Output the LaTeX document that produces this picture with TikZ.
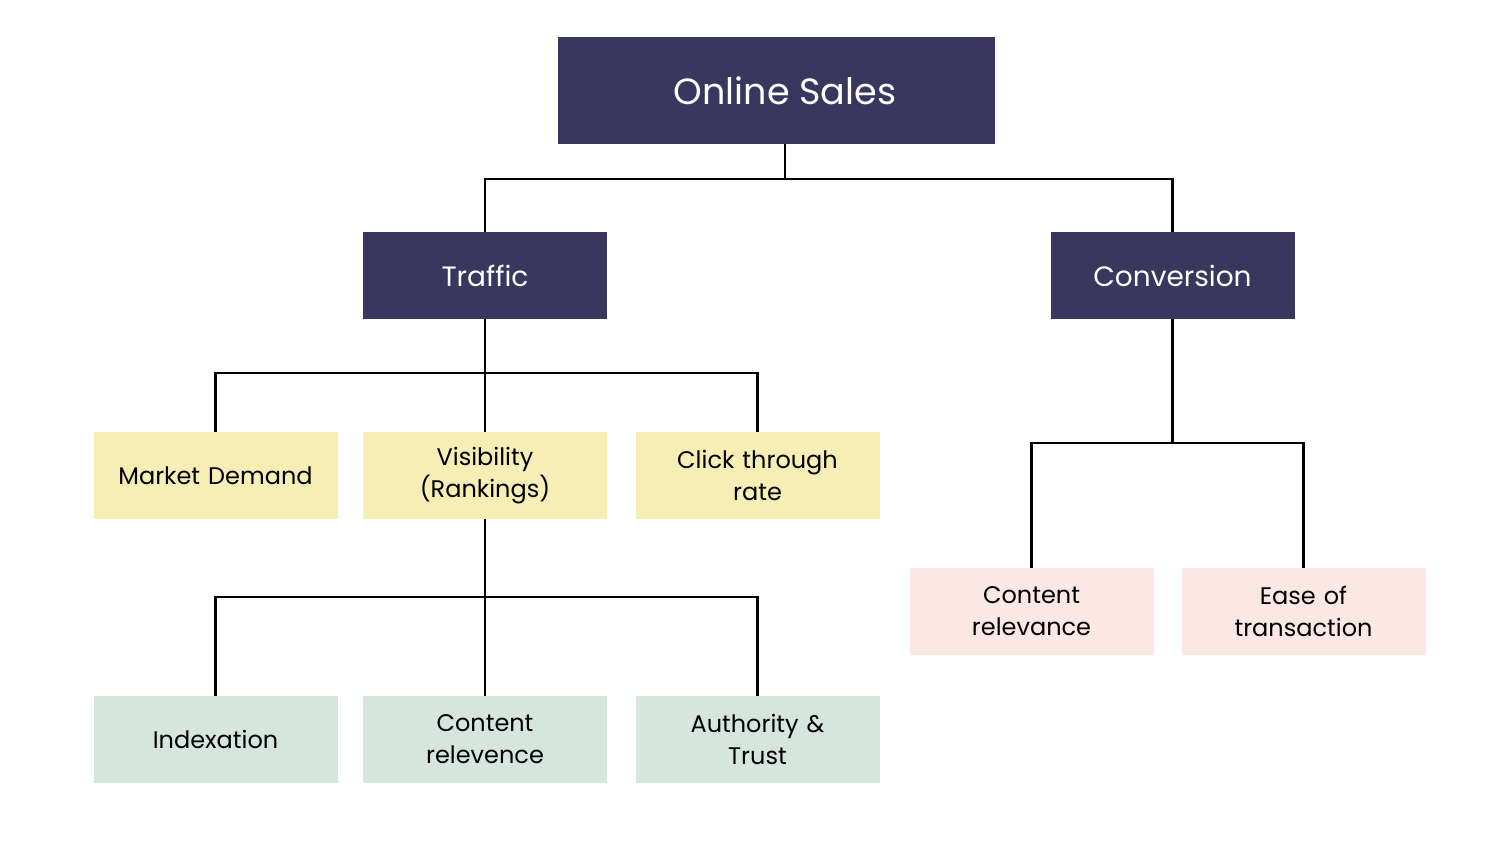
\documentclass[tikz,border=0pt]{standalone}
\usepackage{fontspec}
\setmainfont{Poppins}
\definecolor{navy}{HTML}{3A375F}
\definecolor{yel}{HTML}{F7EEB5}
\definecolor{pink}{HTML}{FBE8E5}
\definecolor{mint}{HTML}{D6E6DF}
\tikzset{
  box/.style={minimum width=244pt, minimum height=87pt, inner sep=0pt, align=center, text width=230pt},
  topbox/.style={fill=navy, text=white, minimum width=437pt, minimum height=107pt, inner sep=0pt, font=\fontsize{36.5}{44}\selectfont},
  midbox/.style={box, fill=navy, text=white, font=\fontsize{28}{34}\selectfont},
  leafbox/.style={box, text=black, font=\fontsize{24}{32}\selectfont},
  conn/.style={draw=black, line width=2.8pt}
}
\begin{document}
\begin{tikzpicture}[x=1pt,y=-1pt]
\useasboundingbox (0,0) rectangle (1500,844);
\node[topbox] (top) at (776.5,90.5) {\hspace*{17pt}Online Sales};
\node[midbox] (traffic) at (485,275.5) {Traffic};
\node[midbox] (conv) at (1172.5,275.5) {Conversion};
\node[leafbox, fill=yel] (market) at (215.5,475.5) {Market Demand};
\node[leafbox, fill=yel] (vis) at (485,475.5) {Visibility\\(Rankings)};
\node[leafbox, fill=yel] (ctr) at (757.5,475.5) {Click through\\rate};
\node[leafbox, fill=mint] (index) at (215.5,739.5) {Indexation};
\node[leafbox, fill=mint] (content) at (485,739.5) {Content\\relevence};
\node[leafbox, fill=mint] (auth) at (757.5,739.5) {Authority \&\\Trust};
\node[leafbox, fill=pink] (crel) at (1031.5,611.5) {Content\\relevance};
\node[leafbox, fill=pink] (ease) at (1303.5,611.5) {Ease of\\transaction};
\coordinate (topout) at ([xshift=8.5pt]top.south);
% level 1
\coordinate (b1) at (0,179);
\draw[conn] (topout) -- (topout |- b1);
\draw[conn] (traffic.north) |- (topout |- b1) -| (conv.north);
% traffic
\coordinate (b2) at (0,373);
\draw[conn] (traffic.south) -- (vis.north);
\draw[conn] (market.north) |- (traffic |- b2) -| (ctr.north);
% conversion
\coordinate (b3) at (0,443);
\draw[conn] (conv.south) -- (conv.south |- b3);
\draw[conn] (crel.north) |- (conv.south |- b3) -| (ease.north);
% visibility
\coordinate (b4) at (0,597);
\draw[conn] (vis.south) -- (content.north);
\draw[conn] (index.north) |- (vis |- b4) -| (auth.north);
\end{tikzpicture}
\end{document}
